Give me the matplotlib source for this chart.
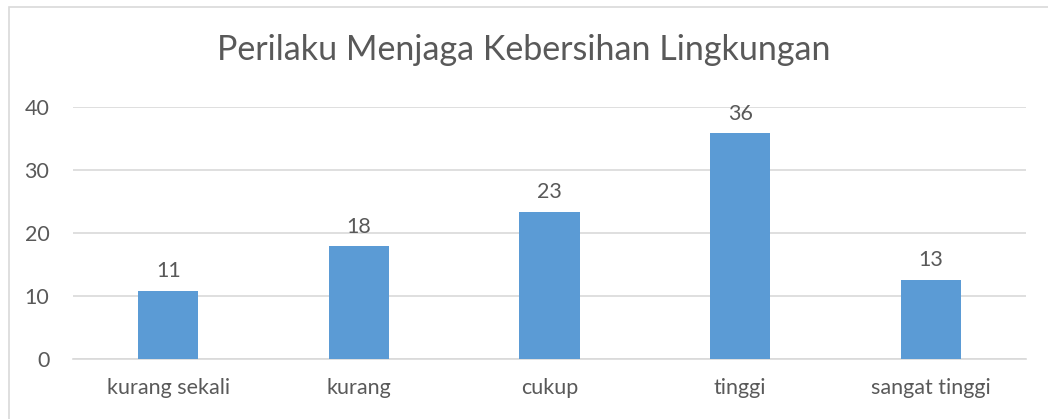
import numpy as np
import matplotlib
matplotlib.use("Agg")
import matplotlib.pyplot as plt
from matplotlib.patches import Rectangle

# data
categories = ["kurang sekali", "kurang", "cukup", "tinggi", "sangat tinggi"]
values = [10.8, 17.9, 23.3, 35.8, 12.6]
value_labels = ["11", "18", "23", "36", "13"]
yticks = [0, 10, 20, 30, 40]

plt.rcParams['font.family'] = ['Lato', 'DejaVu Sans']
txt_col = "#595959"
grid_col = "#d9d9d9"
bar_col = "#5b9bd5"

fig = plt.figure(figsize=(10.48, 4.19), dpi=100)
ax = fig.add_axes([73/1048, 1-359/419, (1026-73)/1048, (359-107)/419])

x = np.arange(len(categories))
bars = ax.bar(x, values, width=0.315, color=bar_col, zorder=3)
for b, lab in zip(bars, value_labels):
    ax.annotate(lab, (b.get_x() + b.get_width()/2, b.get_height()),
                xytext=(0, 7), textcoords="offset points", ha="center", va="bottom",
                fontsize=15.5, color=txt_col)

ax.set_xlim(-0.5, len(categories) - 0.5)
ax.set_ylim(0, 40)
ax.set_yticks(yticks)
ax.set_xticks(x)
ax.set_xticklabels(categories)
ax.tick_params(axis="both", length=0, labelsize=15.5, colors=txt_col)
ax.tick_params(axis="y", pad=17)
ax.tick_params(axis="x", pad=14)
ax.yaxis.grid(True, color=grid_col, linewidth=1.2, zorder=0)
for s in ["top", "right", "left"]:
    ax.spines[s].set_visible(False)
ax.spines["bottom"].set_color(grid_col)
ax.spines["bottom"].set_linewidth(1.2)

fig.text(0.5, 1-50/419, "Perilaku Menjaga Kebersihan Lingkungan",
         ha="center", va="center", fontsize=24.5, color=txt_col)

# outer chart frame
fig.patches.append(Rectangle((9/1048, -0.1), 1.2, 1-7/419+0.1, transform=fig.transFigure,
                             fill=False, edgecolor=grid_col, linewidth=1.2))

fig.savefig("out.png", dpi=100)
